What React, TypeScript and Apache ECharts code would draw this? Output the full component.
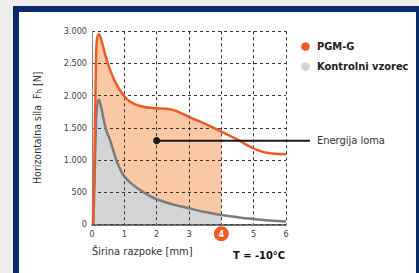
import React, { useEffect, useRef } from "react";
import * as echarts from "echarts";

const pgmX = [0.03, 0.07, 0.09, 0.11, 0.14, 0.21, 0.28, 0.4, 0.56, 0.76, 0.94, 1.17, 1.48, 1.95, 2.4, 2.7, 3.0, 3.5, 4.0, 4.5, 5.0, 5.5, 6.0];
const pgmY = [0, 900, 1500, 2100, 2800, 2955, 2880, 2650, 2400, 2170, 2030, 1910, 1840, 1805, 1790, 1740, 1670, 1560, 1440, 1315, 1180, 1105, 1090];
const ctrlX = [0.04, 0.08, 0.11, 0.15, 0.21, 0.27, 0.35, 0.45, 0.56, 0.75, 0.87, 1.0, 1.25, 1.5, 1.75, 2.0, 2.5, 3.0, 3.5, 4.0, 4.5, 5.0, 5.5, 6.0];
const ctrlY = [0, 700, 1300, 1800, 1935, 1850, 1650, 1450, 1310, 1000, 860, 745, 620, 530, 450, 390, 310, 250, 190, 145, 110, 82, 60, 42];
const energyX = [2, 6.74];
const energyY = [1300, 1300];
const fillLimit = 4;
const xTicks = [0, 1, 2, 3, 4, 5, 6];
const yTicks = [0, 500, 1000, 1500, 2000, 2500, 3000];

const FONT = "'Liberation Sans Narrow', 'DejaVu Sans Condensed', 'Liberation Sans', sans-serif";
const ORANGE = "#f15a24";
const ORANGE_FILL = "#fbc8a6";
const GREY = "#7b7c7e";
const GREY_FILL = "#d3d4d6";

const pairs = (xs: number[], ys: number[]) => xs.map((x, i) => [x, ys[i]]);

export default function App() {
  const ref = useRef<HTMLDivElement>(null);
  useEffect(() => {
    if (!ref.current) return;
    const chart = echarts.init(ref.current, null, { renderer: "svg" });
    const pgm = pairs(pgmX, pgmY);
    const ctrl = pairs(ctrlX, ctrlY);
    const baseGraphic: any[] = [
      { id: "frame", type: "rect", shape: { x: 13, y: 6, width: 406, height: 267 }, style: { fill: "#0b2c6b" }, z: -10 },
      { id: "inner", type: "rect", shape: { x: 19, y: 12, width: 397, height: 261 }, style: { fill: "#ffffff" }, z: -9 },
      { id: "lc1", type: "circle", shape: { cx: 305.5, cy: 46.5, r: 4.3 }, style: { fill: ORANGE } },
      { id: "lt1", type: "text", x: 317, y: 46.5, style: { text: "PGM-G", fontFamily: FONT, fontWeight: "bold", fontSize: 11, fill: "#222", verticalAlign: "middle" } },
      { id: "lc2", type: "circle", shape: { cx: 305.5, cy: 66.5, r: 4.3 }, style: { fill: GREY_FILL } },
      { id: "lt2", type: "text", x: 317, y: 66.5, style: { text: "Kontrolni vzorec", fontFamily: FONT, fontWeight: "bold", fontSize: 11, fill: "#222", verticalAlign: "middle" } },
      { id: "xname", type: "text", x: 92, y: 251, style: { text: "Širina razpoke [mm]", fontFamily: FONT, fontSize: 11, fill: "#333", verticalAlign: "middle" } },
      { id: "temp", type: "text", x: 285, y: 255, style: { text: "T = -10°C", fontFamily: FONT, fontWeight: "bold", fontSize: 11, fill: "#111", verticalAlign: "middle", align: "right" } },
    ];
    chart.setOption({
      animation: false,
      backgroundColor: "#efeee9",
      textStyle: { fontFamily: FONT },
      graphic: baseGraphic,
      grid: { left: 92, top: 31.3, width: 194, height: 193, containLabel: false },
      xAxis: {
        type: "value",
        min: 0,
        max: 6,
        interval: 1,
        z: 3,
        axisLine: { show: true, lineStyle: { color: "#444", width: 1.5 } },
        axisTick: { show: false },
        splitLine: { show: true, lineStyle: { color: "#333", type: [3, 3], width: 1 } },
        axisLabel: {
          margin: 2,
          fontSize: 9,
          color: "#444",
          lineHeight: 15,
          formatter: (v: number) => (xTicks.includes(v) && v === fillLimit ? `{hl|${v}}` : `${v}`),
          rich: {
            hl: {
              backgroundColor: ORANGE,
              borderRadius: 8,
              width: 15,
              height: 15,
              lineHeight: 15,
              align: "center",
              color: "#fff",
              fontWeight: "bold",
              fontSize: 9,
              fontFamily: FONT,
            },
          },
        },
      },
      yAxis: {
        type: "value",
        min: 0,
        max: 3000,
        interval: 500,
        z: 3,
        name: "Horizontalna sila  F{sub|h} [N]",
        nameLocation: "middle",
        nameRotate: 90,
        nameGap: 49,
        nameTextStyle: {
          fontSize: 10.5,
          color: "#333",
          fontFamily: FONT,
          rich: { sub: { fontSize: 8, verticalAlign: "bottom", padding: [4, 0, 0, 0], color: "#333", fontFamily: FONT } },
        },
        axisLine: { show: true, lineStyle: { color: "#888", width: 1 } },
        axisTick: { show: false },
        splitLine: { show: true, lineStyle: { color: "#333", type: [3, 3], width: 1 } },
        axisLabel: {
          margin: 5,
          fontSize: 9,
          color: "#444",
          formatter: (v: number) => (yTicks.includes(v) ? v.toLocaleString("de-DE") : ""),
        },
      },
      series: [
        {
          type: "line",
          name: "PGM-G fill",
          data: pgm.filter((p) => p[0] <= fillLimit),
          smooth: 0.5,
          symbol: "none",
          lineStyle: { width: 0 },
          areaStyle: { color: ORANGE_FILL, opacity: 1 },
          z: 1,
        },
        {
          type: "line",
          name: "Kontrolni fill",
          data: ctrl.filter((p) => p[0] <= fillLimit),
          smooth: 0.5,
          symbol: "none",
          lineStyle: { width: 0 },
          areaStyle: { color: GREY_FILL, opacity: 1 },
          z: 1,
        },
        {
          type: "line",
          name: "Kontrolni vzorec",
          data: ctrl,
          smooth: 0.5,
          symbol: "none",
          lineStyle: { color: GREY, width: 2.5 },
          z: 5,
        },
        {
          type: "line",
          name: "PGM-G",
          data: pgm,
          smooth: 0.5,
          symbol: "none",
          lineStyle: { color: ORANGE, width: 2.5 },
          z: 6,
        },
      ],
    });
    const p0 = chart.convertToPixel({ gridIndex: 0 }, [energyX[0], energyY[0]]) as number[];
    const p1 = chart.convertToPixel({ gridIndex: 0 }, [energyX[1], energyY[1]]) as number[];
    chart.setOption({
      graphic: [
        ...baseGraphic,
        { id: "eline", type: "line", shape: { x1: p0[0], y1: p0[1], x2: p1[0], y2: p1[1] }, style: { stroke: "#1a1a1a", lineWidth: 2 }, z: 20 },
        { id: "edot", type: "circle", shape: { cx: p0[0], cy: p0[1], r: 3.6 }, style: { fill: "#1a1a1a" }, z: 21 },
        { id: "etext", type: "text", x: p1[0] + 7, y: p1[1] - 0.5, style: { text: "Energija loma", fontFamily: FONT, fontSize: 11, fill: "#333", verticalAlign: "middle" }, z: 21 },
      ],
    });
    return () => chart.dispose();
  }, []);
  return <div ref={ref} style={{ position: "fixed", left: 0, top: 0, width: 419, height: 273 }} />;
}
